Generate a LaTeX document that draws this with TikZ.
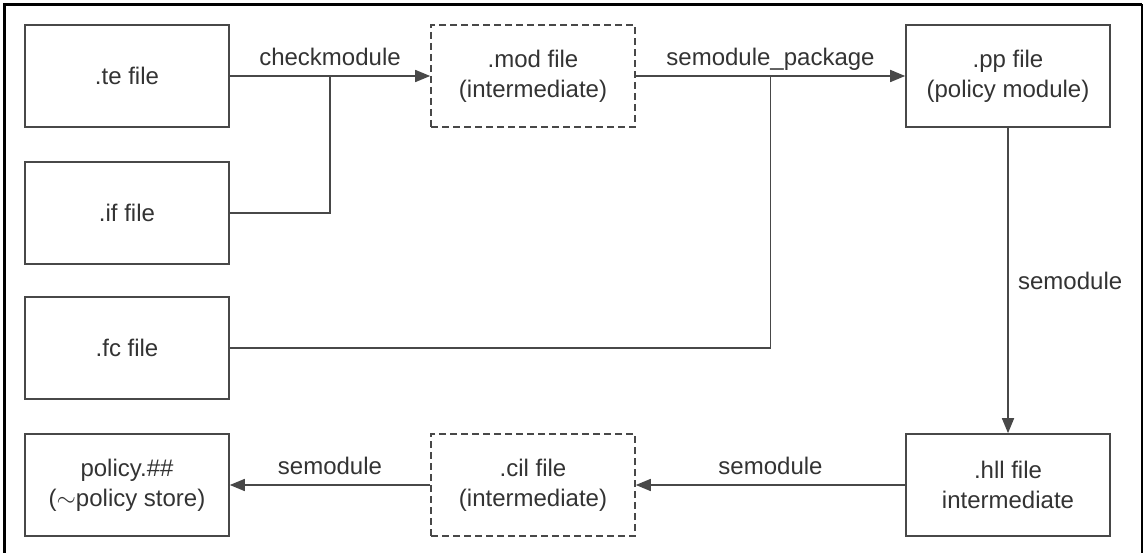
\documentclass[tikz,border=0pt]{standalone}
\usepackage{fontspec}
\setmainfont{Liberation Sans}
\usetikzlibrary{arrows.meta,calc}
\definecolor{linegray}{HTML}{484848}
\definecolor{textgray}{HTML}{333333}
\tikzset{
  filebox/.style={draw=linegray, line width=1.6pt, minimum width=204pt, minimum height=102pt,
    align=center, text=textgray, font=\fontsize{24}{30}\selectfont},
  tmpbox/.style={filebox, dash pattern=on 7pt off 4pt},
  flow/.style={draw=linegray, line width=1.6pt, -{Triangle[length=15pt,width=12pt]}},
  wire/.style={draw=linegray, line width=1.6pt},
  tag/.style={text=textgray, font=\fontsize{24}{30}\selectfont, text depth=0pt}
}
\begin{document}
\begin{tikzpicture}[x=1pt, y=-1pt]
      \useasboundingbox (0,0) rectangle (1145,553);
      % frame
      \draw[line width=3pt] (4.5,553) -- (4.5,4.5) -- (1142,4.5);
      \draw[line width=2.5pt] (1142,4.5) -- (1142,553);
      %
      \node[filebox] (te)  at (127,76)  {.te file};          % sources
      \node[filebox] (if)  at (127,213) {.if file};
      \node[filebox] (fc)  at (127,348) {.fc file};
      \node[filebox] (pol) at (127,485) {policy.\#\#\\($\sim$policy store)};
      %
      \node[tmpbox] (mod) at (533,76)  {.mod file\\(intermediate)};
      \node[tmpbox] (cil) at (533,485) {.cil file\\(intermediate)};
      %
      \node[filebox] (pp)  at (1008,76)  {.pp file\\(policy module)};
      \node[filebox] (hll) at (1008,485) {.hll file\\intermediate};
      %
      \coordinate (j1) at ($(te.east)!0.5!(mod.west)$);
      \coordinate (j2) at ($(mod.east)!0.5!(pp.west)$);
      %
      \draw[flow] (te) -- node[tag, above=6pt] {checkmodule} (mod);
      \draw[wire] (if.east) -| (j1);
      \draw[flow] (mod) -- node[tag, above=6pt] {semodule\_package} (pp);
      \draw[wire] (fc.east) -| (j2);
      \draw[flow] (pp) -- node[tag, right=6pt] {semodule} (hll);
      \draw[flow] (hll) -- node[tag, above=6pt] {semodule} (cil);
      \draw[flow] (cil) -- node[tag, above=6pt] {semodule} (pol);
      %
\end{tikzpicture}
\end{document}
